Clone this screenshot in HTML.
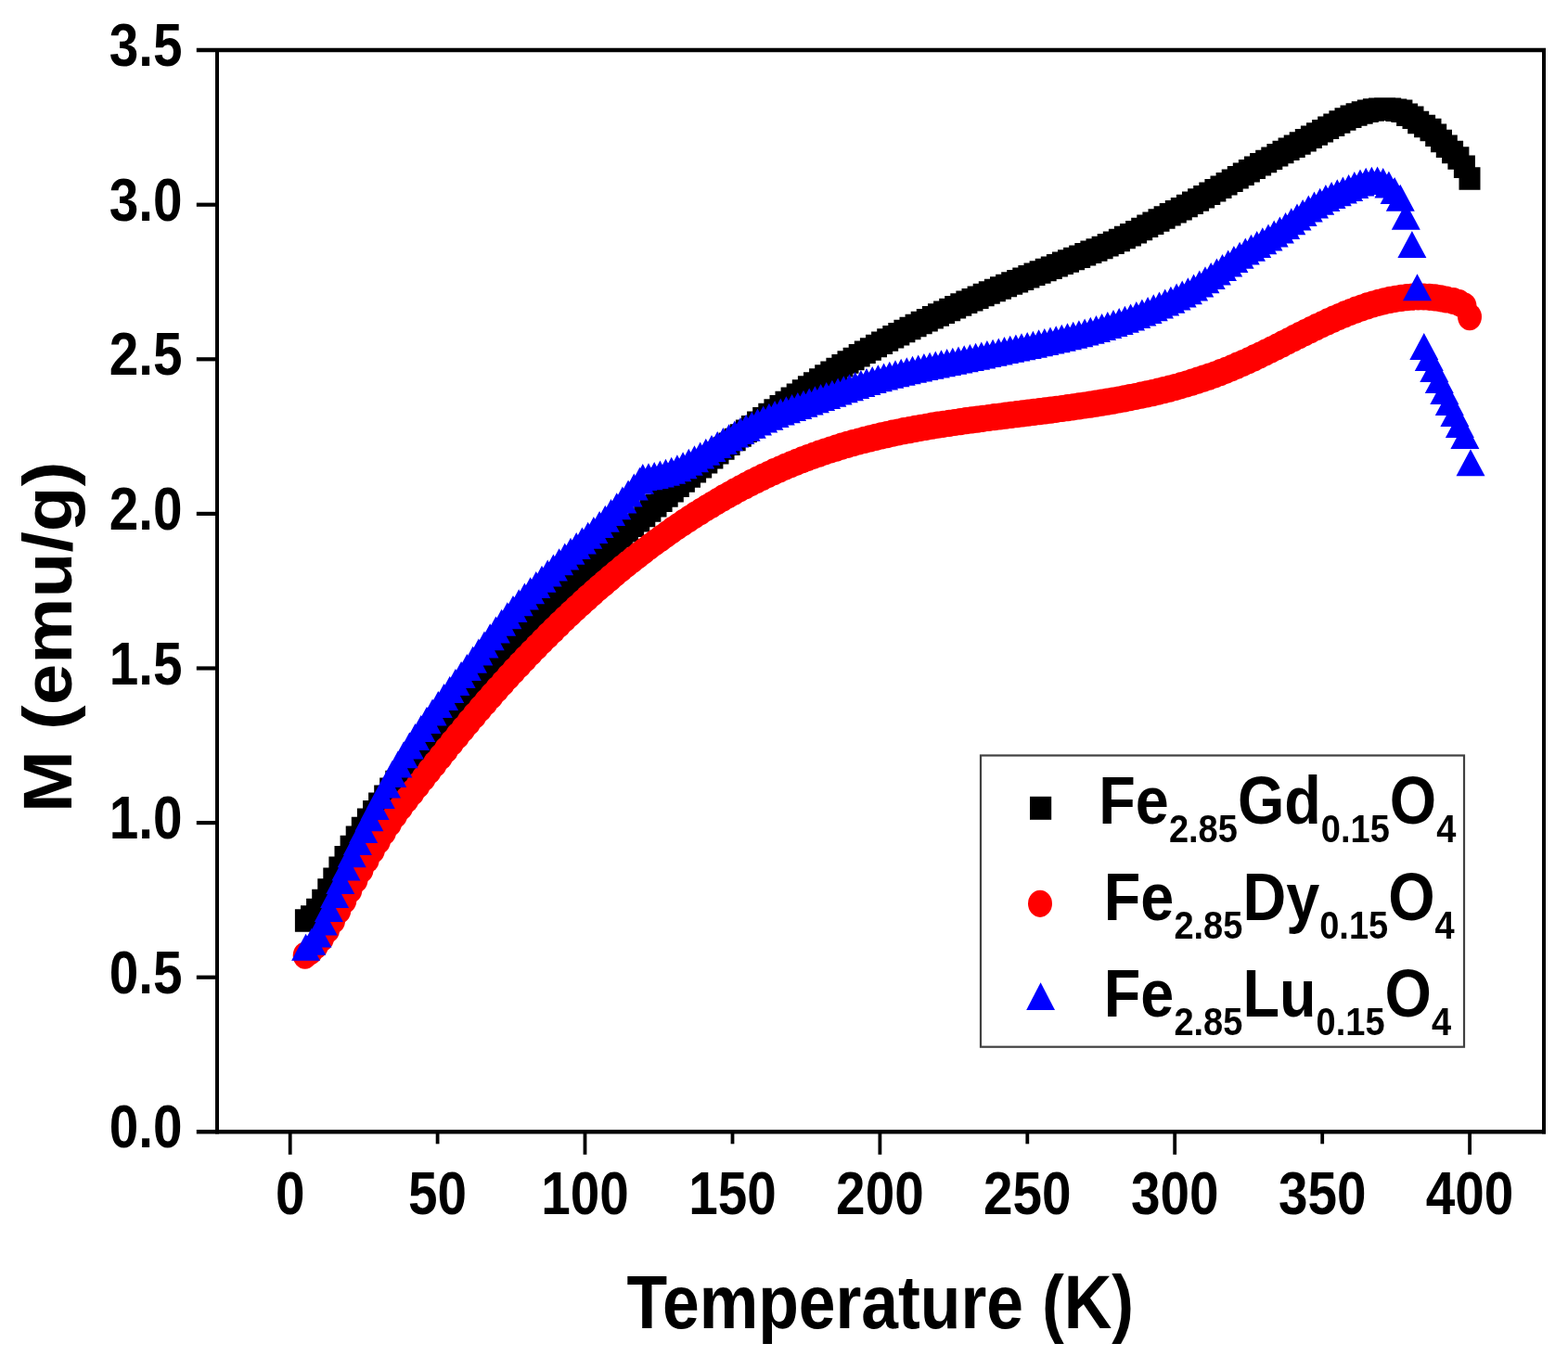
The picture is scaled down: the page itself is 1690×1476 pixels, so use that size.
<!DOCTYPE html><html><head><meta charset="utf-8"><title>M vs T</title><style>html,body{margin:0;padding:0;background:#fff;}svg{display:block;}</style></head><body>
<svg width="1690" height="1476" viewBox="0 0 1690 1476">
<rect width="1690" height="1476" fill="#fff"/>
<path fill="#000" d="M317.9 980.2h23v24.5h-23zM324 976.3h23v24.5h-23zM330.1 968.8h23v24.5h-23zM336.2 958.7h23v24.5h-23zM342.3 947.3h23v24.5h-23zM348.3 935.4h23v24.5h-23zM354.4 923.6h23v24.5h-23zM360.5 912h23v24.5h-23zM366.6 900.8h23v24.5h-23zM372.7 890.5h23v24.5h-23zM378.8 880.7h23v24.5h-23zM384.9 871.6h23v24.5h-23zM391 862.9h23v24.5h-23zM397.1 854.6h23v24.5h-23zM403.2 846.5h23v24.5h-23zM409.2 838.6h23v24.5h-23zM415.3 830.8h23v24.5h-23zM421.4 823h23v24.5h-23zM427.5 815.2h23v24.5h-23zM433.6 807.5h23v24.5h-23zM439.7 799.9h23v24.5h-23zM445.8 792.3h23v24.5h-23zM451.9 784.7h23v24.5h-23zM458 777.2h23v24.5h-23zM464.1 769.8h23v24.5h-23zM470.1 762.4h23v24.5h-23zM476.2 755h23v24.5h-23zM482.3 747.8h23v24.5h-23zM488.4 740.6h23v24.5h-23zM494.5 733.4h23v24.5h-23zM500.6 726.3h23v24.5h-23zM506.7 719.3h23v24.5h-23zM512.8 712.3h23v24.5h-23zM518.9 705.4h23v24.5h-23zM525 698.6h23v24.5h-23zM531 691.8h23v24.5h-23zM537.1 685.1h23v24.5h-23zM543.2 678.5h23v24.5h-23zM549.3 671.9h23v24.5h-23zM555.4 665.4h23v24.5h-23zM561.5 659h23v24.5h-23zM567.6 652.6h23v24.5h-23zM573.7 646.4h23v24.5h-23zM579.8 640.2h23v24.5h-23zM585.9 634h23v24.5h-23zM592 628h23v24.5h-23zM598 622h23v24.5h-23zM604.1 616.1h23v24.5h-23zM610.2 610.3h23v24.5h-23zM616.3 604.5h23v24.5h-23zM622.4 598.8h23v24.5h-23zM628.5 593.1h23v24.5h-23zM634.6 587.5h23v24.5h-23zM640.7 581.9h23v24.5h-23zM646.8 576.3h23v24.5h-23zM652.8 570.8h23v24.5h-23zM658.9 565.4h23v24.5h-23zM665 559.9h23v24.5h-23zM671.1 554.5h23v24.5h-23zM677.2 549.1h23v24.5h-23zM683.3 543.7h23v24.5h-23zM689.4 538.3h23v24.5h-23zM695.5 532.9h23v24.5h-23zM701.6 527.5h23v24.5h-23zM707.7 522.2h23v24.5h-23zM713.8 516.9h23v24.5h-23zM719.8 511.6h23v24.5h-23zM725.9 506.3h23v24.5h-23zM732 501.2h23v24.5h-23zM738.1 496h23v24.5h-23zM744.2 491h23v24.5h-23zM750.3 486h23v24.5h-23zM756.4 481h23v24.5h-23zM762.5 476.1h23v24.5h-23zM768.6 471.3h23v24.5h-23zM774.6 466.5h23v24.5h-23zM780.7 461.8h23v24.5h-23zM786.8 457.2h23v24.5h-23zM792.9 452.6h23v24.5h-23zM799 448h23v24.5h-23zM805.1 443.5h23v24.5h-23zM811.2 439.1h23v24.5h-23zM817.3 434.7h23v24.5h-23zM823.4 430.3h23v24.5h-23zM829.5 426h23v24.5h-23zM835.5 421.7h23v24.5h-23zM841.6 417.5h23v24.5h-23zM847.7 413.4h23v24.5h-23zM853.8 409.3h23v24.5h-23zM859.9 405.2h23v24.5h-23zM866 401.2h23v24.5h-23zM872.1 397.2h23v24.5h-23zM878.2 393.3h23v24.5h-23zM884.3 389.5h23v24.5h-23zM890.4 385.7h23v24.5h-23zM896.4 382h23v24.5h-23zM902.5 378.3h23v24.5h-23zM908.6 374.7h23v24.5h-23zM914.7 371.1h23v24.5h-23zM920.8 367.6h23v24.5h-23zM926.9 364.2h23v24.5h-23zM933 360.8h23v24.5h-23zM939.1 357.5h23v24.5h-23zM945.2 354.3h23v24.5h-23zM951.3 351.1h23v24.5h-23zM957.3 347.9h23v24.5h-23zM963.4 344.8h23v24.5h-23zM969.5 341.8h23v24.5h-23zM975.6 338.8h23v24.5h-23zM981.7 335.8h23v24.5h-23zM987.8 332.9h23v24.5h-23zM993.9 330.1h23v24.5h-23zM1000 327.2h23v24.5h-23zM1006.1 324.4h23v24.5h-23zM1012.2 321.7h23v24.5h-23zM1018.2 319h23v24.5h-23zM1024.3 316.3h23v24.5h-23zM1030.4 313.6h23v24.5h-23zM1036.5 311h23v24.5h-23zM1042.6 308.4h23v24.5h-23zM1048.7 305.8h23v24.5h-23zM1054.8 303.3h23v24.5h-23zM1060.9 300.8h23v24.5h-23zM1067 298.3h23v24.5h-23zM1073.1 295.8h23v24.5h-23zM1079.2 293.3h23v24.5h-23zM1085.2 290.9h23v24.5h-23zM1091.3 288.4h23v24.5h-23zM1097.4 286h23v24.5h-23zM1103.5 283.6h23v24.5h-23zM1109.6 281.2h23v24.5h-23zM1115.7 278.8h23v24.5h-23zM1121.8 276.4h23v24.5h-23zM1127.9 274h23v24.5h-23zM1134 271.6h23v24.5h-23zM1140 269.2h23v24.5h-23zM1146.1 266.8h23v24.5h-23zM1152.2 264.4h23v24.5h-23zM1158.3 262h23v24.5h-23zM1164.4 259.6h23v24.5h-23zM1170.5 257.2h23v24.5h-23zM1176.6 254.7h23v24.5h-23zM1182.7 252.1h23v24.5h-23zM1188.8 249.4h23v24.5h-23zM1194.9 246.7h23v24.5h-23zM1200.9 243.8h23v24.5h-23zM1207 240.9h23v24.5h-23zM1213.1 237.9h23v24.5h-23zM1219.2 234.8h23v24.5h-23zM1225.3 231.6h23v24.5h-23zM1231.4 228.5h23v24.5h-23zM1237.5 225.3h23v24.5h-23zM1243.6 222.2h23v24.5h-23zM1249.7 219.1h23v24.5h-23zM1255.8 216h23v24.5h-23zM1261.8 212.9h23v24.5h-23zM1267.9 209.7h23v24.5h-23zM1274 206.5h23v24.5h-23zM1280.1 203.2h23v24.5h-23zM1286.2 199.9h23v24.5h-23zM1292.3 196.5h23v24.5h-23zM1298.4 193.1h23v24.5h-23zM1304.5 189.6h23v24.5h-23zM1310.6 186.1h23v24.5h-23zM1316.7 182.6h23v24.5h-23zM1322.8 179.1h23v24.5h-23zM1328.8 175.6h23v24.5h-23zM1334.9 172.1h23v24.5h-23zM1341 168.6h23v24.5h-23zM1347.1 165.1h23v24.5h-23zM1353.2 161.7h23v24.5h-23zM1359.3 158.4h23v24.5h-23zM1365.4 155.1h23v24.5h-23zM1371.5 151.8h23v24.5h-23zM1377.6 148.6h23v24.5h-23zM1383.7 145.4h23v24.5h-23zM1389.7 142.2h23v24.5h-23zM1395.8 138.9h23v24.5h-23zM1401.9 135.6h23v24.5h-23zM1408 132.3h23v24.5h-23zM1414.1 128.9h23v24.5h-23zM1420.2 125.6h23v24.5h-23zM1426.3 122.4h23v24.5h-23zM1432.4 119.2h23v24.5h-23zM1438.5 116.3h23v24.5h-23zM1444.5 113.6h23v24.5h-23zM1450.6 111.2h23v24.5h-23zM1456.7 109.2h23v24.5h-23zM1462.8 107.5h23v24.5h-23zM1468.9 106.2h23v24.5h-23zM1475 105.4h23v24.5h-23zM1481.1 105.2h23v24.5h-23zM1487.2 105.5h23v24.5h-23zM1493.3 106.5h23v24.5h-23zM1499.4 107.5h23v24.5h-23zM1505.1 111.5h23v24.5h-23zM1511.5 114.5h23v24.5h-23zM1517.2 119.7h23v24.5h-23zM1524.1 123.7h23v24.5h-23zM1530.5 127.7h23v24.5h-23zM1536.2 133.4h23v24.5h-23zM1542 139.8h23v24.5h-23zM1547.8 145.6h23v24.5h-23zM1554.1 151.8h23v24.5h-23zM1560.4 158.2h23v24.5h-23zM1566.9 167.4h23v24.5h-23zM1572.5 180.2h23v24.5h-23z"/>
<g fill="#ff0000"><ellipse cx="328.7" cy="1030.1" rx="13" ry="14.6"/><ellipse cx="334.8" cy="1025.8" rx="13" ry="14.6"/><ellipse cx="340.9" cy="1019.5" rx="13" ry="14.6"/><ellipse cx="347" cy="1011.6" rx="13" ry="14.6"/><ellipse cx="353.1" cy="1002.5" rx="13" ry="14.6"/><ellipse cx="359.1" cy="992.4" rx="13" ry="14.6"/><ellipse cx="365.2" cy="981.7" rx="13" ry="14.6"/><ellipse cx="371.3" cy="970.7" rx="13" ry="14.6"/><ellipse cx="377.4" cy="959.5" rx="13" ry="14.6"/><ellipse cx="383.5" cy="948.4" rx="13" ry="14.6"/><ellipse cx="389.6" cy="937.6" rx="13" ry="14.6"/><ellipse cx="395.7" cy="927" rx="13" ry="14.6"/><ellipse cx="401.8" cy="916.7" rx="13" ry="14.6"/><ellipse cx="407.9" cy="906.7" rx="13" ry="14.6"/><ellipse cx="414" cy="897" rx="13" ry="14.6"/><ellipse cx="420" cy="887.7" rx="13" ry="14.6"/><ellipse cx="426.1" cy="878.8" rx="13" ry="14.6"/><ellipse cx="432.2" cy="870.3" rx="13" ry="14.6"/><ellipse cx="438.3" cy="862.2" rx="13" ry="14.6"/><ellipse cx="444.4" cy="854.4" rx="13" ry="14.6"/><ellipse cx="450.5" cy="846.7" rx="13" ry="14.6"/><ellipse cx="456.6" cy="839" rx="13" ry="14.6"/><ellipse cx="462.7" cy="831.3" rx="13" ry="14.6"/><ellipse cx="468.8" cy="823.6" rx="13" ry="14.6"/><ellipse cx="474.9" cy="816" rx="13" ry="14.6"/><ellipse cx="480.9" cy="808.4" rx="13" ry="14.6"/><ellipse cx="487" cy="800.8" rx="13" ry="14.6"/><ellipse cx="493.1" cy="793.4" rx="13" ry="14.6"/><ellipse cx="499.2" cy="786" rx="13" ry="14.6"/><ellipse cx="505.3" cy="778.6" rx="13" ry="14.6"/><ellipse cx="511.4" cy="771.4" rx="13" ry="14.6"/><ellipse cx="517.5" cy="764.2" rx="13" ry="14.6"/><ellipse cx="523.6" cy="757.2" rx="13" ry="14.6"/><ellipse cx="529.7" cy="750.2" rx="13" ry="14.6"/><ellipse cx="535.8" cy="743.3" rx="13" ry="14.6"/><ellipse cx="541.9" cy="736.5" rx="13" ry="14.6"/><ellipse cx="547.9" cy="729.8" rx="13" ry="14.6"/><ellipse cx="554" cy="723.1" rx="13" ry="14.6"/><ellipse cx="560.1" cy="716.6" rx="13" ry="14.6"/><ellipse cx="566.2" cy="710.1" rx="13" ry="14.6"/><ellipse cx="572.3" cy="703.8" rx="13" ry="14.6"/><ellipse cx="578.4" cy="697.5" rx="13" ry="14.6"/><ellipse cx="584.5" cy="691.3" rx="13" ry="14.6"/><ellipse cx="590.6" cy="685.1" rx="13" ry="14.6"/><ellipse cx="596.7" cy="679.1" rx="13" ry="14.6"/><ellipse cx="602.8" cy="673.1" rx="13" ry="14.6"/><ellipse cx="608.8" cy="667.3" rx="13" ry="14.6"/><ellipse cx="614.9" cy="661.5" rx="13" ry="14.6"/><ellipse cx="621" cy="655.8" rx="13" ry="14.6"/><ellipse cx="627.1" cy="650.2" rx="13" ry="14.6"/><ellipse cx="633.2" cy="644.6" rx="13" ry="14.6"/><ellipse cx="639.3" cy="639.2" rx="13" ry="14.6"/><ellipse cx="645.4" cy="633.8" rx="13" ry="14.6"/><ellipse cx="651.5" cy="628.6" rx="13" ry="14.6"/><ellipse cx="657.6" cy="623.4" rx="13" ry="14.6"/><ellipse cx="663.6" cy="618.3" rx="13" ry="14.6"/><ellipse cx="669.7" cy="613.2" rx="13" ry="14.6"/><ellipse cx="675.8" cy="608.3" rx="13" ry="14.6"/><ellipse cx="681.9" cy="603.4" rx="13" ry="14.6"/><ellipse cx="688" cy="598.7" rx="13" ry="14.6"/><ellipse cx="694.1" cy="594" rx="13" ry="14.6"/><ellipse cx="700.2" cy="589.3" rx="13" ry="14.6"/><ellipse cx="706.3" cy="584.8" rx="13" ry="14.6"/><ellipse cx="712.4" cy="580.4" rx="13" ry="14.6"/><ellipse cx="718.5" cy="576" rx="13" ry="14.6"/><ellipse cx="724.5" cy="571.7" rx="13" ry="14.6"/><ellipse cx="730.6" cy="567.5" rx="13" ry="14.6"/><ellipse cx="736.7" cy="563.4" rx="13" ry="14.6"/><ellipse cx="742.8" cy="559.4" rx="13" ry="14.6"/><ellipse cx="748.9" cy="555.4" rx="13" ry="14.6"/><ellipse cx="755" cy="551.6" rx="13" ry="14.6"/><ellipse cx="761.1" cy="547.8" rx="13" ry="14.6"/><ellipse cx="767.2" cy="544.1" rx="13" ry="14.6"/><ellipse cx="773.3" cy="540.5" rx="13" ry="14.6"/><ellipse cx="779.4" cy="536.9" rx="13" ry="14.6"/><ellipse cx="785.5" cy="533.5" rx="13" ry="14.6"/><ellipse cx="791.5" cy="530.1" rx="13" ry="14.6"/><ellipse cx="797.6" cy="526.8" rx="13" ry="14.6"/><ellipse cx="803.7" cy="523.6" rx="13" ry="14.6"/><ellipse cx="809.8" cy="520.4" rx="13" ry="14.6"/><ellipse cx="815.9" cy="517.4" rx="13" ry="14.6"/><ellipse cx="822" cy="514.4" rx="13" ry="14.6"/><ellipse cx="828.1" cy="511.5" rx="13" ry="14.6"/><ellipse cx="834.2" cy="508.7" rx="13" ry="14.6"/><ellipse cx="840.3" cy="506" rx="13" ry="14.6"/><ellipse cx="846.3" cy="503.3" rx="13" ry="14.6"/><ellipse cx="852.4" cy="500.8" rx="13" ry="14.6"/><ellipse cx="858.5" cy="498.3" rx="13" ry="14.6"/><ellipse cx="864.6" cy="495.9" rx="13" ry="14.6"/><ellipse cx="870.7" cy="493.5" rx="13" ry="14.6"/><ellipse cx="876.8" cy="491.3" rx="13" ry="14.6"/><ellipse cx="882.9" cy="489.1" rx="13" ry="14.6"/><ellipse cx="889" cy="487" rx="13" ry="14.6"/><ellipse cx="895.1" cy="485" rx="13" ry="14.6"/><ellipse cx="901.2" cy="483.1" rx="13" ry="14.6"/><ellipse cx="907.2" cy="481.2" rx="13" ry="14.6"/><ellipse cx="913.3" cy="479.4" rx="13" ry="14.6"/><ellipse cx="919.4" cy="477.7" rx="13" ry="14.6"/><ellipse cx="925.5" cy="476" rx="13" ry="14.6"/><ellipse cx="931.6" cy="474.4" rx="13" ry="14.6"/><ellipse cx="937.7" cy="472.9" rx="13" ry="14.6"/><ellipse cx="943.8" cy="471.4" rx="13" ry="14.6"/><ellipse cx="949.9" cy="469.9" rx="13" ry="14.6"/><ellipse cx="956" cy="468.6" rx="13" ry="14.6"/><ellipse cx="962.1" cy="467.2" rx="13" ry="14.6"/><ellipse cx="968.1" cy="466" rx="13" ry="14.6"/><ellipse cx="974.2" cy="464.7" rx="13" ry="14.6"/><ellipse cx="980.3" cy="463.6" rx="13" ry="14.6"/><ellipse cx="986.4" cy="462.4" rx="13" ry="14.6"/><ellipse cx="992.5" cy="461.3" rx="13" ry="14.6"/><ellipse cx="998.6" cy="460.3" rx="13" ry="14.6"/><ellipse cx="1004.7" cy="459.2" rx="13" ry="14.6"/><ellipse cx="1010.8" cy="458.2" rx="13" ry="14.6"/><ellipse cx="1016.9" cy="457.3" rx="13" ry="14.6"/><ellipse cx="1023" cy="456.4" rx="13" ry="14.6"/><ellipse cx="1029" cy="455.5" rx="13" ry="14.6"/><ellipse cx="1035.1" cy="454.6" rx="13" ry="14.6"/><ellipse cx="1041.2" cy="453.7" rx="13" ry="14.6"/><ellipse cx="1047.3" cy="452.9" rx="13" ry="14.6"/><ellipse cx="1053.4" cy="452.1" rx="13" ry="14.6"/><ellipse cx="1059.5" cy="451.3" rx="13" ry="14.6"/><ellipse cx="1065.6" cy="450.5" rx="13" ry="14.6"/><ellipse cx="1071.7" cy="449.7" rx="13" ry="14.6"/><ellipse cx="1077.8" cy="449" rx="13" ry="14.6"/><ellipse cx="1083.9" cy="448.2" rx="13" ry="14.6"/><ellipse cx="1090" cy="447.4" rx="13" ry="14.6"/><ellipse cx="1096" cy="446.7" rx="13" ry="14.6"/><ellipse cx="1102.1" cy="445.9" rx="13" ry="14.6"/><ellipse cx="1108.2" cy="445.2" rx="13" ry="14.6"/><ellipse cx="1114.3" cy="444.4" rx="13" ry="14.6"/><ellipse cx="1120.4" cy="443.7" rx="13" ry="14.6"/><ellipse cx="1126.5" cy="442.9" rx="13" ry="14.6"/><ellipse cx="1132.6" cy="442.1" rx="13" ry="14.6"/><ellipse cx="1138.7" cy="441.3" rx="13" ry="14.6"/><ellipse cx="1144.8" cy="440.5" rx="13" ry="14.6"/><ellipse cx="1150.8" cy="439.7" rx="13" ry="14.6"/><ellipse cx="1156.9" cy="438.8" rx="13" ry="14.6"/><ellipse cx="1163" cy="437.9" rx="13" ry="14.6"/><ellipse cx="1169.1" cy="437" rx="13" ry="14.6"/><ellipse cx="1175.2" cy="436.1" rx="13" ry="14.6"/><ellipse cx="1181.3" cy="435.2" rx="13" ry="14.6"/><ellipse cx="1187.4" cy="434.2" rx="13" ry="14.6"/><ellipse cx="1193.5" cy="433.2" rx="13" ry="14.6"/><ellipse cx="1199.6" cy="432.1" rx="13" ry="14.6"/><ellipse cx="1205.7" cy="431" rx="13" ry="14.6"/><ellipse cx="1211.8" cy="429.9" rx="13" ry="14.6"/><ellipse cx="1217.8" cy="428.7" rx="13" ry="14.6"/><ellipse cx="1223.9" cy="427.5" rx="13" ry="14.6"/><ellipse cx="1230" cy="426.2" rx="13" ry="14.6"/><ellipse cx="1236.1" cy="424.9" rx="13" ry="14.6"/><ellipse cx="1242.2" cy="423.6" rx="13" ry="14.6"/><ellipse cx="1248.3" cy="422.1" rx="13" ry="14.6"/><ellipse cx="1254.4" cy="420.6" rx="13" ry="14.6"/><ellipse cx="1260.5" cy="419.1" rx="13" ry="14.6"/><ellipse cx="1266.6" cy="417.5" rx="13" ry="14.6"/><ellipse cx="1272.6" cy="415.8" rx="13" ry="14.6"/><ellipse cx="1278.7" cy="414" rx="13" ry="14.6"/><ellipse cx="1284.8" cy="412.2" rx="13" ry="14.6"/><ellipse cx="1290.9" cy="410.2" rx="13" ry="14.6"/><ellipse cx="1297" cy="408.2" rx="13" ry="14.6"/><ellipse cx="1303.1" cy="406.1" rx="13" ry="14.6"/><ellipse cx="1309.2" cy="404" rx="13" ry="14.6"/><ellipse cx="1315.3" cy="401.7" rx="13" ry="14.6"/><ellipse cx="1321.4" cy="399.3" rx="13" ry="14.6"/><ellipse cx="1327.5" cy="396.8" rx="13" ry="14.6"/><ellipse cx="1333.5" cy="394.2" rx="13" ry="14.6"/><ellipse cx="1339.6" cy="391.5" rx="13" ry="14.6"/><ellipse cx="1345.7" cy="388.8" rx="13" ry="14.6"/><ellipse cx="1351.8" cy="385.9" rx="13" ry="14.6"/><ellipse cx="1357.9" cy="383" rx="13" ry="14.6"/><ellipse cx="1364" cy="380" rx="13" ry="14.6"/><ellipse cx="1370.1" cy="377" rx="13" ry="14.6"/><ellipse cx="1376.2" cy="374" rx="13" ry="14.6"/><ellipse cx="1382.3" cy="370.9" rx="13" ry="14.6"/><ellipse cx="1388.4" cy="367.8" rx="13" ry="14.6"/><ellipse cx="1394.5" cy="364.7" rx="13" ry="14.6"/><ellipse cx="1400.5" cy="361.7" rx="13" ry="14.6"/><ellipse cx="1406.6" cy="358.6" rx="13" ry="14.6"/><ellipse cx="1412.7" cy="355.6" rx="13" ry="14.6"/><ellipse cx="1418.8" cy="352.7" rx="13" ry="14.6"/><ellipse cx="1424.9" cy="349.8" rx="13" ry="14.6"/><ellipse cx="1431" cy="346.9" rx="13" ry="14.6"/><ellipse cx="1437.1" cy="344.2" rx="13" ry="14.6"/><ellipse cx="1443.2" cy="341.5" rx="13" ry="14.6"/><ellipse cx="1449.3" cy="338.9" rx="13" ry="14.6"/><ellipse cx="1455.3" cy="336.5" rx="13" ry="14.6"/><ellipse cx="1461.4" cy="334.2" rx="13" ry="14.6"/><ellipse cx="1467.5" cy="332" rx="13" ry="14.6"/><ellipse cx="1473.6" cy="329.9" rx="13" ry="14.6"/><ellipse cx="1479.7" cy="328" rx="13" ry="14.6"/><ellipse cx="1485.8" cy="326.3" rx="13" ry="14.6"/><ellipse cx="1491.9" cy="324.8" rx="13" ry="14.6"/><ellipse cx="1498" cy="323.4" rx="13" ry="14.6"/><ellipse cx="1504.1" cy="322.3" rx="13" ry="14.6"/><ellipse cx="1510.2" cy="321.4" rx="13" ry="14.6"/><ellipse cx="1516.2" cy="320.7" rx="13" ry="14.6"/><ellipse cx="1522.3" cy="320.2" rx="13" ry="14.6"/><ellipse cx="1528.4" cy="320" rx="13" ry="14.6"/><ellipse cx="1534.5" cy="320" rx="13" ry="14.6"/><ellipse cx="1540.6" cy="320.3" rx="13" ry="14.6"/><ellipse cx="1546.7" cy="320.9" rx="13" ry="14.6"/><ellipse cx="1552.8" cy="321.8" rx="13" ry="14.6"/><ellipse cx="1558.9" cy="323" rx="13" ry="14.6"/><ellipse cx="1566.5" cy="324.5" rx="13" ry="14.6"/><ellipse cx="1572.6" cy="326.5" rx="13" ry="14.6"/><ellipse cx="1578.5" cy="330" rx="13" ry="14.6"/><ellipse cx="1584" cy="341.6" rx="13" ry="14.6"/></g>
<path fill="#0000ff" d="M329.6 1006.7L345.1 1035.7L314.1 1035.7zM335.8 1000.7L351.3 1029.7L320.3 1029.7zM342 992.5L357.5 1021.5L326.5 1021.5zM348.2 979.6L363.7 1008.6L332.7 1008.6zM354.4 965.1L369.9 994.1L338.9 994.1zM360.6 950L376.1 979L345.1 979zM366.8 935L382.3 964L351.3 964zM373 920.4L388.5 949.4L357.5 949.4zM379.2 906.2L394.7 935.2L363.7 935.2zM385.4 892.9L400.9 921.9L369.9 921.9zM391.7 880.1L407.2 909.1L376.2 909.1zM397.9 867.3L413.4 896.3L382.4 896.3zM404.1 855.1L419.6 884.1L388.6 884.1zM410.3 843.1L425.8 872.1L394.8 872.1zM416.5 831.4L432 860.4L401 860.4zM422.7 820.1L438.2 849.1L407.2 849.1zM428.9 809.4L444.4 838.4L413.4 838.4zM435.1 799.2L450.6 828.2L419.6 828.2zM441.3 789.4L456.8 818.4L425.8 818.4zM447.5 780L463 809L432 809zM453.7 770.9L469.2 799.9L438.2 799.9zM459.9 762L475.4 791L444.4 791zM466.1 753.4L481.6 782.4L450.6 782.4zM472.3 745L487.8 774L456.8 774zM478.5 736.9L494 765.9L463 765.9zM484.7 728.9L500.2 757.9L469.2 757.9zM490.9 720.9L506.4 749.9L475.4 749.9zM497.1 713L512.6 742L481.6 742zM503.3 704.9L518.8 733.9L487.8 733.9zM509.6 696.8L525 725.8L494.1 725.8zM515.8 688.6L531.3 717.6L500.3 717.6zM522 680.4L537.5 709.4L506.5 709.4zM528.2 672.3L543.7 701.3L512.7 701.3zM534.4 664.4L549.9 693.4L518.9 693.4zM540.6 656.7L556.1 685.7L525.1 685.7zM546.8 649.2L562.3 678.2L531.3 678.2zM553 642.1L568.5 671.1L537.5 671.1zM559.2 635.3L574.7 664.3L543.7 664.3zM565.4 628.6L580.9 657.6L549.9 657.6zM571.6 622.2L587.1 651.2L556.1 651.2zM577.8 615.9L593.3 644.9L562.3 644.9zM584 609.7L599.5 638.7L568.5 638.7zM590.2 603.5L605.7 632.5L574.7 632.5zM596.4 597.4L611.9 626.4L580.9 626.4zM602.6 591.3L618.1 620.3L587.1 620.3zM608.8 585.4L624.3 614.4L593.3 614.4zM615 579.7L630.5 608.7L599.5 608.7zM621.2 574.1L636.7 603.1L605.7 603.1zM627.4 568.4L642.9 597.4L611.9 597.4zM633.7 562.7L649.2 591.7L618.2 591.7zM639.9 556.9L655.4 585.9L624.4 585.9zM646.1 550.9L661.6 579.9L630.6 579.9zM652.3 544.7L667.8 573.7L636.8 573.7zM658.5 538.1L674 567.1L643 567.1zM664.7 531.3L680.2 560.3L649.2 560.3zM670.9 524.4L686.4 553.4L655.4 553.4zM677.1 517.5L692.6 546.5L661.6 546.5zM683.3 510.6L698.8 539.6L667.8 539.6zM689.5 503.8L705 532.8L674 532.8zM692.8 500.1L708.3 529.1L677.3 529.1zM699 499.3L714.5 528.3L683.5 528.3zM705.2 498L720.7 527L689.7 527zM711.4 496.5L726.9 525.5L695.9 525.5zM717.5 494.7L733 523.7L702 523.7zM723.7 492.8L739.2 521.8L708.2 521.8zM729.9 490.3L745.4 519.3L714.4 519.3zM736.1 487.2L751.6 516.2L720.6 516.2zM742.3 483.8L757.8 512.8L726.8 512.8zM748.5 480.2L764 509.2L733 509.2zM754.7 476.5L770.2 505.5L739.2 505.5zM760.8 472.8L776.3 501.8L745.3 501.8zM767 469L782.5 498L751.5 498zM773.2 465L788.7 494L757.7 494zM779.4 461L794.9 490L763.9 490zM785.6 457.2L801.1 486.2L770.1 486.2zM791.8 453.6L807.3 482.6L776.3 482.6zM798 450.1L813.5 479.1L782.5 479.1zM804.1 446.8L819.6 475.8L788.6 475.8zM810.3 443.7L825.8 472.7L794.8 472.7zM816.5 440.6L832 469.6L801 469.6zM822.7 437.6L838.2 466.6L807.2 466.6zM828.9 434.8L844.4 463.8L813.4 463.8zM835.1 432L850.6 461L819.6 461zM841.3 429.5L856.8 458.5L825.8 458.5zM847.4 427.2L862.9 456.2L831.9 456.2zM853.6 425L869.1 454L838.1 454zM859.8 422.9L875.3 451.9L844.3 451.9zM866 420.7L881.5 449.7L850.5 449.7zM872.2 418.5L887.7 447.5L856.7 447.5zM878.4 416.3L893.9 445.3L862.9 445.3zM884.6 414.1L900.1 443.1L869.1 443.1zM890.7 411.9L906.2 440.9L875.2 440.9zM896.9 409.7L912.4 438.7L881.4 438.7zM903.1 407.5L918.6 436.5L887.6 436.5zM909.3 405.3L924.8 434.3L893.8 434.3zM915.5 403.2L931 432.2L900 432.2zM921.7 401.1L937.2 430.1L906.2 430.1zM927.9 399L943.4 428L912.4 428zM934 397.1L949.5 426.1L918.5 426.1zM940.2 395.1L955.7 424.1L924.7 424.1zM946.4 393.3L961.9 422.3L930.9 422.3zM952.6 391.5L968.1 420.5L937.1 420.5zM958.8 389.8L974.3 418.8L943.3 418.8zM965 388.2L980.5 417.2L949.5 417.2zM971.2 386.7L986.7 415.7L955.7 415.7zM977.3 385.2L992.8 414.2L961.8 414.2zM983.5 383.8L999 412.8L968 412.8zM989.7 382.4L1005.2 411.4L974.2 411.4zM995.9 381.1L1011.4 410.1L980.4 410.1zM1002.1 379.8L1017.6 408.8L986.6 408.8zM1008.3 378.6L1023.8 407.6L992.8 407.6zM1014.5 377.3L1030 406.3L999 406.3zM1020.6 376.1L1036.1 405.1L1005.1 405.1zM1026.8 374.8L1042.3 403.8L1011.3 403.8zM1033 373.6L1048.5 402.6L1017.5 402.6zM1039.2 372.3L1054.7 401.3L1023.7 401.3zM1045.4 371L1060.9 400L1029.9 400zM1051.6 369.7L1067.1 398.7L1036.1 398.7zM1057.8 368.4L1073.3 397.4L1042.3 397.4zM1063.9 367L1079.4 396L1048.4 396zM1070.1 365.7L1085.6 394.7L1054.6 394.7zM1076.3 364.4L1091.8 393.4L1060.8 393.4zM1082.5 363.1L1098 392.1L1067 392.1zM1088.7 361.8L1104.2 390.8L1073.2 390.8zM1094.9 360.5L1110.4 389.5L1079.4 389.5zM1101 359.2L1116.5 388.2L1085.5 388.2zM1107.2 358L1122.7 387L1091.7 387zM1113.4 356.7L1128.9 385.7L1097.9 385.7zM1119.6 355.3L1135.1 384.3L1104.1 384.3zM1125.8 354L1141.3 383L1110.3 383zM1132 352.6L1147.5 381.6L1116.5 381.6zM1138.2 351.2L1153.7 380.2L1122.7 380.2zM1144.3 349.8L1159.8 378.8L1128.8 378.8zM1150.5 348.3L1166 377.3L1135 377.3zM1156.7 346.8L1172.2 375.8L1141.2 375.8zM1162.9 345.2L1178.4 374.2L1147.4 374.2zM1169.1 343.5L1184.6 372.5L1153.6 372.5zM1175.3 341.8L1190.8 370.8L1159.8 370.8zM1181.5 340L1197 369L1166 369zM1187.6 338.1L1203.1 367.1L1172.1 367.1zM1193.8 336.1L1209.3 365.1L1178.3 365.1zM1200 334L1215.5 363L1184.5 363zM1206.2 331.9L1221.7 360.9L1190.7 360.9zM1212.4 329.7L1227.9 358.7L1196.9 358.7zM1218.6 327.4L1234.1 356.4L1203.1 356.4zM1224.8 325L1240.3 354L1209.3 354zM1230.9 322.5L1246.4 351.5L1215.4 351.5zM1237.1 319.9L1252.6 348.9L1221.6 348.9zM1243.3 317.2L1258.8 346.2L1227.8 346.2zM1249.5 314.5L1265 343.5L1234 343.5zM1255.7 311.6L1271.2 340.6L1240.2 340.6zM1261.9 308.7L1277.4 337.7L1246.4 337.7zM1268.1 305.6L1283.6 334.6L1252.6 334.6zM1274.2 302.5L1289.7 331.5L1258.7 331.5zM1280.4 299.3L1295.9 328.3L1264.9 328.3zM1286.6 295.6L1302.1 324.6L1271.1 324.6zM1292.8 291.5L1308.3 320.5L1277.3 320.5zM1299 287.2L1314.5 316.2L1283.5 316.2zM1305.2 282.9L1320.7 311.9L1289.7 311.9zM1311.4 278.5L1326.9 307.5L1295.9 307.5zM1317.5 274L1333 303L1302 303zM1323.7 269.5L1339.2 298.5L1308.2 298.5zM1329.9 265.1L1345.4 294.1L1314.4 294.1zM1336.1 260.7L1351.6 289.7L1320.6 289.7zM1342.3 256.6L1357.8 285.6L1326.8 285.6zM1348.5 252.7L1364 281.7L1333 281.7zM1354.7 248.9L1370.2 277.9L1339.2 277.9zM1360.8 245.2L1376.3 274.2L1345.3 274.2zM1367 241.4L1382.5 270.4L1351.5 270.4zM1373.2 237.5L1388.7 266.5L1357.7 266.5zM1379.4 233.4L1394.9 262.4L1363.9 262.4zM1385.6 228.9L1401.1 257.9L1370.1 257.9zM1391.8 224.2L1407.3 253.2L1376.3 253.2zM1398 219.5L1413.5 248.5L1382.5 248.5zM1404.1 215L1419.6 244L1388.6 244zM1410.3 210.6L1425.8 239.6L1394.8 239.6zM1416.5 206.4L1432 235.4L1401 235.4zM1422.7 202.7L1438.2 231.7L1407.2 231.7zM1428.9 199.1L1444.4 228.1L1413.4 228.1zM1435.1 196L1450.6 225L1419.6 225zM1441.3 193.2L1456.8 222.2L1425.8 222.2zM1447.4 190.6L1462.9 219.6L1431.9 219.6zM1453.6 187.9L1469.1 216.9L1438.1 216.9zM1459.8 185L1475.3 214L1444.3 214zM1466 182.6L1481.5 211.6L1450.5 211.6zM1472.2 180.7L1487.7 209.7L1456.7 209.7zM1478.4 179.7L1493.9 208.7L1462.9 208.7zM1484.6 179.4L1500.1 208.4L1469.1 208.4zM1490.7 181.1L1506.2 210.1L1475.2 210.1zM1496.9 184.5L1512.4 213.5L1481.4 213.5zM1503.1 191L1518.6 220L1487.6 220zM1509.3 198.8L1524.8 227.8L1493.8 227.8zM1515.3 218.7L1530.8 247.7L1499.8 247.7zM1521.9 249.1L1537.4 278.1L1506.4 278.1zM1527.5 295.2L1543 324.2L1512 324.2zM1534.8 359L1550.3 388L1519.3 388zM1540.3 371L1555.8 400L1524.8 400zM1545.8 383L1561.3 412L1530.3 412zM1551.3 395L1566.8 424L1535.8 424zM1556.8 407L1572.3 436L1541.3 436zM1562.3 418.9L1577.8 447.9L1546.8 447.9zM1567.9 430.9L1583.4 459.9L1552.4 459.9zM1573.4 442.9L1588.9 471.9L1557.9 471.9zM1578.9 454.9L1594.4 483.9L1563.4 483.9zM1585 484.2L1600.5 513.2L1569.5 513.2z"/>
<g stroke="#000" fill="none" stroke-linecap="butt">
<path d="M211.8 54H1666" stroke-width="4.4"/>
<path d="M211.8 1220.3H1666" stroke-width="4.6"/>
<path d="M234 52V1222.5" stroke-width="4"/>
<path d="M1664 52V1222.5" stroke-width="4"/>
<path d="M211.8 1053.7H234" stroke-width="4.2"/>
<path d="M211.8 887.1H234" stroke-width="4.2"/>
<path d="M211.8 720.5H234" stroke-width="4.2"/>
<path d="M211.8 553.9H234" stroke-width="4.2"/>
<path d="M211.8 387.3H234" stroke-width="4.2"/>
<path d="M211.8 220.7H234" stroke-width="4.2"/>
<path d="M312.7 1220.3V1244.8" stroke-width="3.8"/>
<path d="M471.6 1220.3V1233.3" stroke-width="3.8"/>
<path d="M630.5 1220.3V1244.8" stroke-width="3.8"/>
<path d="M789.5 1220.3V1233.3" stroke-width="3.8"/>
<path d="M948.4 1220.3V1244.8" stroke-width="3.8"/>
<path d="M1107.3 1220.3V1233.3" stroke-width="3.8"/>
<path d="M1266.2 1220.3V1244.8" stroke-width="3.8"/>
<path d="M1425.2 1220.3V1233.3" stroke-width="3.8"/>
<path d="M1584.1 1220.3V1244.8" stroke-width="3.8"/>
</g>
<g font-family="Liberation Sans, Arial, Helvetica, sans-serif" font-weight="bold" fill="#000">
<text transform="translate(196.6 1237.3) scale(0.567 0.645)" text-anchor="end" font-size="100">0.0</text>
<text transform="translate(196.6 1070.7) scale(0.567 0.645)" text-anchor="end" font-size="100">0.5</text>
<text transform="translate(196.6 904.1) scale(0.567 0.645)" text-anchor="end" font-size="100">1.0</text>
<text transform="translate(196.6 737.5) scale(0.567 0.645)" text-anchor="end" font-size="100">1.5</text>
<text transform="translate(196.6 570.9) scale(0.567 0.645)" text-anchor="end" font-size="100">2.0</text>
<text transform="translate(196.6 404.3) scale(0.567 0.645)" text-anchor="end" font-size="100">2.5</text>
<text transform="translate(196.6 237.7) scale(0.567 0.645)" text-anchor="end" font-size="100">3.0</text>
<text transform="translate(196.6 71.1) scale(0.567 0.645)" text-anchor="end" font-size="100">3.5</text>
<text transform="translate(312.7 1308.8) scale(0.567 0.645)" text-anchor="middle" font-size="100">0</text>
<text transform="translate(471.6 1308.8) scale(0.567 0.645)" text-anchor="middle" font-size="100">50</text>
<text transform="translate(630.5 1308.8) scale(0.567 0.645)" text-anchor="middle" font-size="100">100</text>
<text transform="translate(789.5 1308.8) scale(0.567 0.645)" text-anchor="middle" font-size="100">150</text>
<text transform="translate(948.4 1308.8) scale(0.567 0.645)" text-anchor="middle" font-size="100">200</text>
<text transform="translate(1107.3 1308.8) scale(0.567 0.645)" text-anchor="middle" font-size="100">250</text>
<text transform="translate(1266.2 1308.8) scale(0.567 0.645)" text-anchor="middle" font-size="100">300</text>
<text transform="translate(1425.2 1308.8) scale(0.567 0.645)" text-anchor="middle" font-size="100">350</text>
<text transform="translate(1584.1 1308.8) scale(0.567 0.645)" text-anchor="middle" font-size="100">400</text>
<text transform="translate(675.6 1432.4) scale(0.7144 0.8087)" font-size="100">Temperature (K)</text>
<text transform="translate(76.6 876) rotate(-90) scale(0.8015 0.745)" font-size="100">M (emu/g)</text>
</g>
<rect x="1057" y="814.5" width="521" height="314.2" fill="none" stroke="#404040" stroke-width="2.2"/>
<rect x="1110" y="858.8" width="23.2" height="25" fill="#000"/>
<ellipse cx="1121" cy="974.3" rx="13" ry="14.6" fill="#ff0000"/>
<path d="M1121.6 1059.3L1137 1088.9H1106.2z" fill="#0000ff"/>
<g font-family="Liberation Sans, Arial, Helvetica, sans-serif" font-weight="bold" fill="#000">
<text transform="translate(1184.3 888.3) scale(0.648 0.722)" font-size="100">Fe<tspan font-size="58.7" dy="27.3">2.85</tspan><tspan font-size="100" dy="-27.3">Gd</tspan><tspan font-size="58.7" dy="27.3">0.15</tspan><tspan font-size="100" dy="-27.3">O</tspan><tspan font-size="58.7" dy="27.3">4</tspan></text>
<text transform="translate(1189.8 992.1) scale(0.648 0.722)" font-size="100">Fe<tspan font-size="58.7" dy="27.3">2.85</tspan><tspan font-size="100" dy="-27.3">Dy</tspan><tspan font-size="58.7" dy="27.3">0.15</tspan><tspan font-size="100" dy="-27.3">O</tspan><tspan font-size="58.7" dy="27.3">4</tspan></text>
<text transform="translate(1189.8 1096.3) scale(0.648 0.722)" font-size="100">Fe<tspan font-size="58.7" dy="27.3">2.85</tspan><tspan font-size="100" dy="-27.3">Lu</tspan><tspan font-size="58.7" dy="27.3">0.15</tspan><tspan font-size="100" dy="-27.3">O</tspan><tspan font-size="58.7" dy="27.3">4</tspan></text>
</g>
</svg></body></html>
